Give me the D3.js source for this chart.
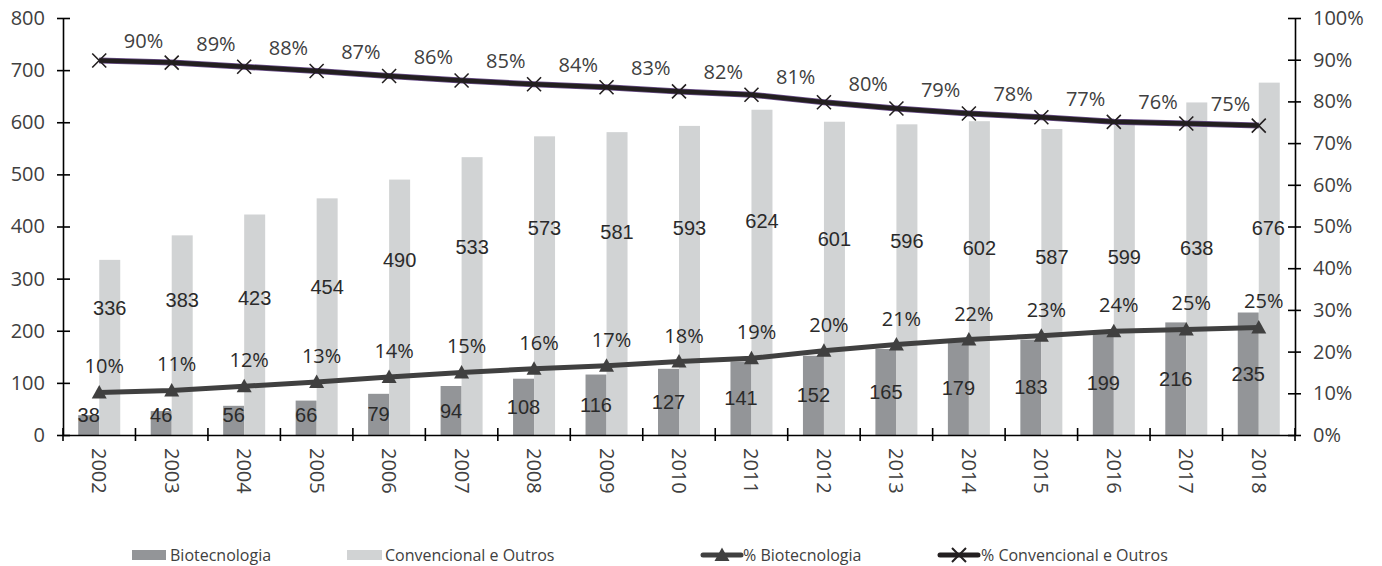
<!DOCTYPE html>
<html>
<head>
<meta charset="utf-8">
<script src="https://cdn.jsdelivr.net/npm/d3@7/dist/d3.min.js"></script>
<style>
  html, body { margin: 0; padding: 0; background: #fff; }
  svg { display: block; }
</style>
</head>
<body>
<svg id="chart" width="1382" height="566"></svg>
<script>
// ---- data ----
const years = ["2002","2003","2004","2005","2006","2007","2008","2009","2010","2011","2012","2013","2014","2015","2016","2017","2018"];
const biotec = [38,46,56,66,79,94,108,116,127,141,152,165,179,183,199,216,235];
const convencional = [336,383,423,454,490,533,573,581,593,624,601,596,602,587,599,638,676];
const pctBiotec = [10.2,10.7,11.7,12.7,13.9,15.0,15.9,16.6,17.6,18.4,20.2,21.7,22.9,23.8,24.9,25.3,25.8];
const pctConv = [89.8,89.3,88.3,87.3,86.1,85.0,84.1,83.4,82.4,81.6,79.8,78.3,77.1,76.2,75.1,74.7,74.2];
const pctBiotecLabels = ["10%","11%","12%","13%","14%","15%","16%","17%","18%","19%","20%","21%","22%","23%","24%","25%","25%"];
const pctConvLabels = ["90%","89%","88%","87%","86%","85%","84%","83%","82%","81%","80%","79%","78%","77%","76%","75%"];
// where the (hand-placed) labels of the light bars sit, in left-axis units
const convLabelAnchor = [244,259,263,284,336,361,397,389,397,411,376,372,359,341,341,359,397];
const leftTicks = [0,100,200,300,400,500,600,700,800];
const rightTicks = [0,10,20,30,40,50,60,70,80,90,100];
const legendItems = ["Biotecnologia","Convencional e Outros","% Biotecnologia","% Convencional e Outros"];

// ---- layout ----
const svg = d3.select("#chart");
const mLeft = 63, mRight = 1295, mTop = 18, mBottom = 435;
const darkCol = "#939598", lightCol = "#d1d3d4", lineBio = "#404040", lineConv = "#231f20", textCol = "#404040", valCol = "#2a2a2a";
const axisFont = "'Open Sans', sans-serif";
const valFont = "'Liberation Sans', Arial, sans-serif";

const x = d3.scaleBand().domain(years).range([mLeft, mRight]).paddingInner(0).paddingOuter(0);
const yL = d3.scaleLinear().domain([0, 800]).range([mBottom, mTop]);
const yR = d3.scaleLinear().domain([0, 100]).range([mBottom, mTop]);
const barW = 21;
const cx = d => x(d) + x.bandwidth() / 2;

// bars
svg.append("g").selectAll("rect").data(years).join("rect")
  .attr("x", d => cx(d) - barW).attr("width", barW)
  .attr("y", (d, i) => yL(biotec[i])).attr("height", (d, i) => yL(0) - yL(biotec[i]))
  .attr("fill", darkCol);
svg.append("g").selectAll("rect").data(years).join("rect")
  .attr("x", d => cx(d)).attr("width", barW)
  .attr("y", (d, i) => yL(convencional[i])).attr("height", (d, i) => yL(0) - yL(convencional[i]))
  .attr("fill", lightCol);

// axes
const axL = d3.axisLeft(yL).tickValues(leftTicks).tickSizeInner(0).tickSizeOuter(0).tickPadding(18);
const gL = svg.append("g").attr("transform", `translate(${mLeft},0)`).call(axL);
const axR = d3.axisRight(yR).tickValues(rightTicks).tickFormat(d => d + "%").tickSizeInner(0).tickSizeOuter(0).tickPadding(18);
const gR = svg.append("g").attr("transform", `translate(${mRight},0)`).call(axR);
const axB = d3.axisBottom(x).tickSize(0).tickPadding(13);
const gB = svg.append("g").attr("transform", `translate(0,${mBottom})`).call(axB);

[gL, gR, gB].forEach(g => {
  g.select(".domain").attr("stroke", "#000").attr("stroke-width", 1.6);
  g.selectAll("text").attr("font-family", axisFont).attr("font-size", 20).attr("fill", textCol);
});
// cross ticks on value axes
gL.selectAll(".tick").append("line").attr("x1", -6).attr("x2", 7).attr("stroke", "#000").attr("stroke-width", 1.6);
gR.selectAll(".tick").append("line").attr("x1", -7).attr("x2", 6).attr("stroke", "#000").attr("stroke-width", 1.6);
// category boundary ticks
const bounds = years.map(d => x(d)).concat([mRight]);
svg.append("g").selectAll("line").data(bounds).join("line")
  .attr("x1", d => d).attr("x2", d => d).attr("y1", mBottom - 7).attr("y2", mBottom + 6)
  .attr("stroke", "#000").attr("stroke-width", 1.6);
// rotated year labels
gB.selectAll(".tick text")
  .attr("transform", "rotate(90)")
  .attr("text-anchor", "start")
  .attr("x", 13).attr("y", 0).attr("dy", "0.35em");

// bar value labels
svg.append("g").selectAll("text").data(years).join("text")
  .attr("x", d => cx(d) - barW / 2)
  .attr("y", (d, i) => Math.min(yL(biotec[i] / 2), yL(0) - 20))
  .attr("dy", "0.35em").attr("text-anchor", "middle")
  .attr("font-family", valFont).attr("font-size", 20).attr("fill", valCol)
  .text((d, i) => biotec[i]);
svg.append("g").selectAll("text").data(years).join("text")
  .attr("x", d => cx(d) + barW / 2)
  .attr("y", (d, i) => yL(convLabelAnchor[i]))
  .attr("dy", "0.35em").attr("text-anchor", "middle")
  .attr("font-family", valFont).attr("font-size", 20).attr("fill", valCol)
  .text((d, i) => convencional[i])
  .each(function () {
    // keep labels clear of the right axis
    const b = this.getBBox();
    const limit = mRight - 10;
    if (b.x + b.width > limit) this.setAttribute("x", +this.getAttribute("x") - (b.x + b.width - limit));
  });

// lines
const lineB = d3.line().x((d, i) => cx(years[i])).y(d => yR(d));
svg.append("path").datum(pctConv).attr("d", lineB).attr("fill", "none")
  .attr("stroke", "#6a4f8a").attr("stroke-width", 6).attr("stroke-linejoin", "round");
svg.append("path").datum(pctConv).attr("d", lineB).attr("fill", "none")
  .attr("stroke", lineConv).attr("stroke-width", 4.5).attr("stroke-linejoin", "round");
svg.append("path").datum(pctBiotec).attr("d", lineB).attr("fill", "none")
  .attr("stroke", lineBio).attr("stroke-width", 5).attr("stroke-linejoin", "round");

// markers
const tri = "M0,-7.5L7.5,6L-7.5,6Z";
svg.append("g").selectAll("path").data(pctBiotec).join("path")
  .attr("d", tri).attr("transform", (d, i) => `translate(${cx(years[i])},${yR(d)})`)
  .attr("fill", lineBio);
const cross = "M-7,-7L7,7M-7,7L7,-7";
svg.append("g").selectAll("path").data(pctConv).join("path")
  .attr("d", cross).attr("transform", (d, i) => `translate(${cx(years[i])},${yR(d)})`)
  .attr("fill", "none").attr("stroke", lineConv).attr("stroke-width", 1.6);

// percentage labels
svg.append("g").selectAll("text").data(pctBiotecLabels).join("text")
  .attr("x", (d, i) => cx(years[i]) + 5)
  .attr("y", (d, i) => yR(pctBiotec[i]) - 26)
  .attr("dy", "0.35em").attr("text-anchor", "middle")
  .attr("font-family", axisFont).attr("font-size", 20).attr("fill", valCol)
  .text(d => d);
svg.append("g").selectAll("text").data(pctConvLabels).join("text")
  .attr("x", (d, i) => (cx(years[i]) + cx(years[i + 1])) / 2 + 8)
  .attr("y", (d, i) => (yR(pctConv[i]) + yR(pctConv[i + 1])) / 2 - 21)
  .attr("dy", "0.35em").attr("text-anchor", "middle")
  .attr("font-family", axisFont).attr("font-size", 20).attr("fill", textCol)
  .text(d => d);

// legend
const lg = svg.append("g").attr("font-family", axisFont).attr("font-size", 16).attr("fill", textCol);
const ly = 555;
lg.append("rect").attr("x", 132).attr("y", ly - 5).attr("width", 34).attr("height", 10).attr("fill", darkCol);
lg.append("text").attr("x", 170).attr("y", ly).attr("dy", "0.35em").text(legendItems[0]);
lg.append("rect").attr("x", 347).attr("y", ly - 5).attr("width", 35).attr("height", 10).attr("fill", lightCol);
lg.append("text").attr("x", 385).attr("y", ly).attr("dy", "0.35em").text(legendItems[1]);
lg.append("line").attr("x1", 703).attr("x2", 741).attr("y1", ly).attr("y2", ly).attr("stroke", lineBio).attr("stroke-width", 5).attr("stroke-linecap", "round");
lg.append("path").attr("d", tri).attr("transform", `translate(722,${ly})`).attr("fill", lineBio);
lg.append("text").attr("x", 743).attr("y", ly).attr("dy", "0.35em").text(legendItems[2]);
lg.append("line").attr("x1", 940).attr("x2", 978).attr("y1", ly).attr("y2", ly).attr("stroke", lineConv).attr("stroke-width", 5).attr("stroke-linecap", "round");
lg.append("path").attr("d", cross).attr("transform", `translate(959,${ly})`).attr("fill", "none").attr("stroke", lineConv).attr("stroke-width", 2);
lg.append("text").attr("x", 981).attr("y", ly).attr("dy", "0.35em").text(legendItems[3]);
</script>
</body>
</html>
